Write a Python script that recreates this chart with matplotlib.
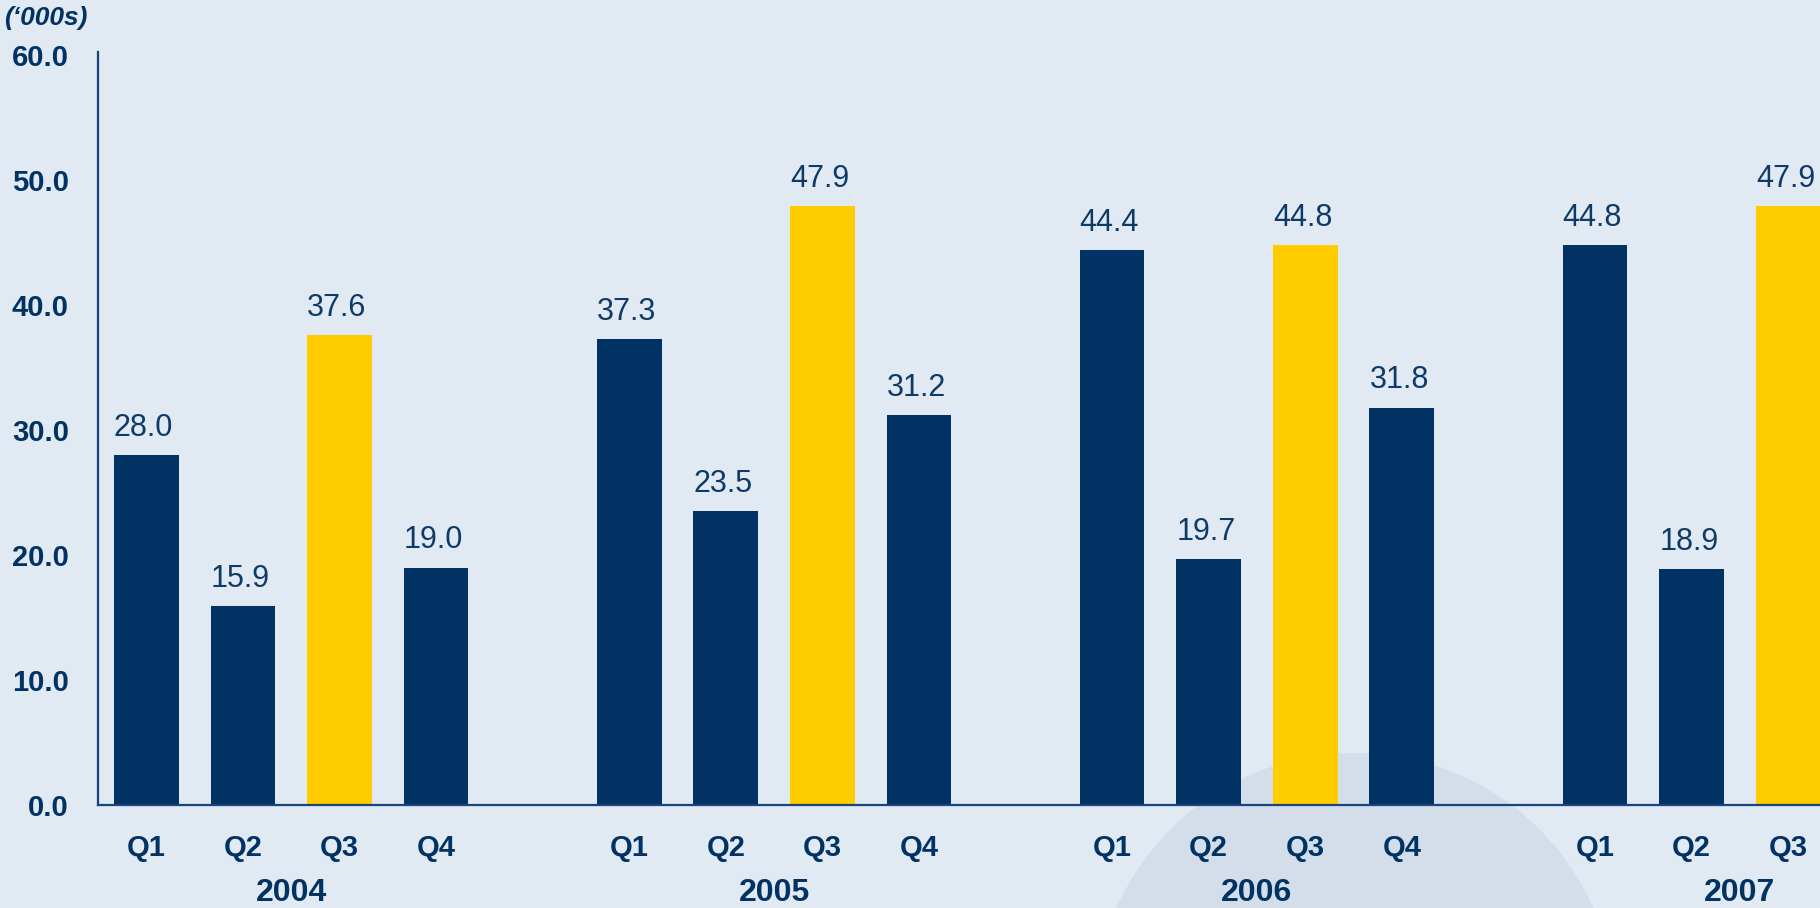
import matplotlib
matplotlib.use("Agg")
import matplotlib.pyplot as plt
from matplotlib.patches import Circle
from matplotlib.transforms import blended_transform_factory

years = ["2004", "2005", "2006", "2007"]
quarters = ["Q1", "Q2", "Q3", "Q4"]
values_2004 = [28.0, 15.9, 37.6, 19.0]
values_2005 = [37.3, 23.5, 47.9, 31.2]
values_2006 = [44.4, 19.7, 44.8, 31.8]
values_2007 = [44.8, 18.9, 47.9]
yticks = [0, 10, 20, 30, 40, 50, 60]
unit_label = "(\u2018000s)"

all_values = [values_2004, values_2005, values_2006, values_2007]

NAVY = "#003363"
YELLOW = "#FFCC00"
BG = "#E1E9F2"
TEXT = "#0E3A68"

plt.rcParams['font.family'] = ['Liberation Sans', 'DejaVu Sans']

fig = plt.figure(figsize=(18.2, 9.08), dpi=100, facecolor=BG)

# faint watermark circle (background decoration)
wm = Circle((13.55, 9.08 - 10.14), 2.61, transform=fig.dpi_scale_trans,
            facecolor="#D3DEEA", edgecolor="none", zorder=-5)
fig.patches.append(wm)

ax = fig.add_axes([98 / 1820, 1 - 805 / 908, 1 - 98 / 1820, (805 - 52) / 908])
ax.set_facecolor("none")
ax.set_zorder(2)

xs, hs, cs, labs = [], [], [], []
for g, vals in enumerate(all_values):
    for q, v in enumerate(vals):
        xs.append(5 * g + q)
        hs.append(v)
        cs.append(YELLOW if q == 2 else NAVY)
        labs.append(quarters[q])

width = 0.67
bars = ax.bar(xs, hs, width=width, color=cs, zorder=2)
for x, h in zip(xs, hs):
    ax.annotate(f"{h:.1f}", xy=(x - width / 2, h), xytext=(0, 19),
                textcoords="offset pixels", ha="left", va="baseline",
                fontsize=22, color=TEXT, annotation_clip=False)

ax.set_xlim(-0.5, 17.33)
ax.set_ylim(0, 60.24)
ax.set_yticks(yticks)
ax.set_yticklabels([f"{t:.1f}" for t in yticks], fontsize=21, fontweight="bold", color=NAVY)
ax.set_xticks(xs)
ax.set_xticklabels(labs, fontsize=21, fontweight="bold", color=NAVY)
ax.tick_params(axis="y", length=0, pad=21)
ax.tick_params(axis="x", length=0, pad=21)

for s in ["top", "right"]:
    ax.spines[s].set_visible(False)
for s in ["left", "bottom"]:
    ax.spines[s].set_color("#1A4480")
    ax.spines[s].set_linewidth(1.6)

trans = blended_transform_factory(ax.transData, ax.transAxes)
for g, yr in enumerate(years):
    ax.annotate(yr, xy=(5 * g + 1.5, 0), xycoords=trans, xytext=(0, -96),
                textcoords="offset pixels", ha="center", va="baseline",
                fontsize=23, fontweight="bold", color=NAVY, annotation_clip=False)

fig.text(4 / 1820, 1 - 25 / 908, unit_label, ha="left", va="baseline",
         fontsize=19, fontweight="bold", fontstyle="italic", color=NAVY)

fig.savefig("out.png", dpi=100, facecolor=BG)
